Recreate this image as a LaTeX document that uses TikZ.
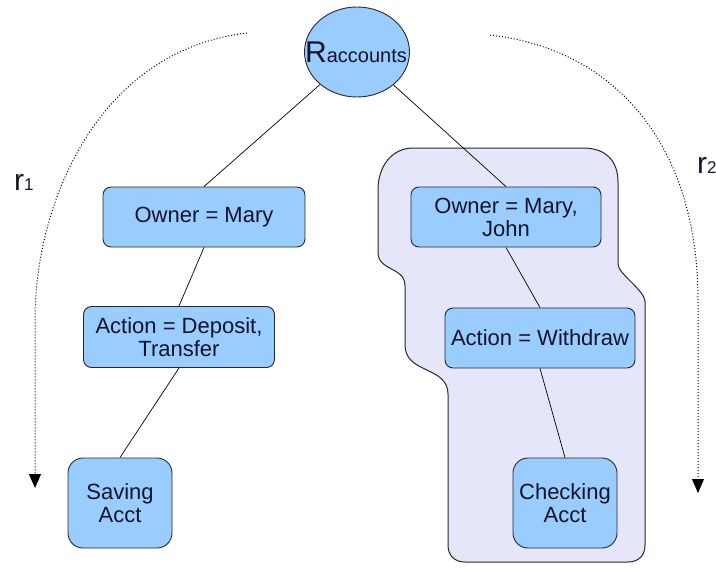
\documentclass[tikz,border=0pt]{standalone}
\usepackage{fontspec}
\setmainfont{Liberation Sans}
\usetikzlibrary{arrows.meta,shapes.geometric}
\definecolor{boxblue}{RGB}{153,204,255}
\definecolor{blobfill}{RGB}{230,230,250}
\definecolor{edgegray}{RGB}{40,40,40}
\definecolor{txt}{RGB}{20,20,40}
\tikzset{
  boxnode/.style={draw=edgegray, line width=0.9pt, fill=boxblue, rounded corners=8pt,
    align=center, inner sep=0pt, text=txt, font=\fontsize{22}{23}\selectfont},
  leafnode/.style={boxnode, rounded corners=15pt},
  conn/.style={draw=black, line width=0.7pt},
  rarc/.style={draw=black, line width=1pt, dotted, -{Triangle[width=12pt,length=14pt]}},
  rlabel/.style={anchor=base west, inner sep=0pt, text=txt, font=\fontsize{30}{30}\selectfont}
}
\begin{document}
\begin{tikzpicture}[x=1pt,y=-1pt]
\useasboundingbox (0,0) rectangle (716,571);
% shaded region
\draw[fill=blobfill, draw=edgegray, line width=1pt]
  (413,148) -- (583,148) .. controls (605,148) and (618,160) .. (618,182)
  -- (618,264) .. controls (618,274) and (645,290) .. (645,302)
  -- (645,545) .. controls (645,556) and (638,562) .. (628,562)
  -- (465,562) .. controls (455,562) and (448,556) .. (448,545)
  -- (448,394) .. controls (448,366) and (405,374) .. (405,345)
  -- (405,286) .. controls (405,266) and (378,272) .. (378,252)
  -- (378,190) .. controls (378,165) and (393,148) .. (413,148) -- cycle;
% nodes
\node[ellipse, draw=edgegray, line width=0.9pt, fill=boxblue, minimum width=105pt,
      minimum height=90pt, inner sep=0pt] (root) at (357,52) {};
\node[inner sep=0pt, text=txt, anchor=base] (rootlbl) at (356,62)
      {{\fontsize{30}{30}\selectfont R}{\fontsize{20}{20}\selectfont accounts}};
\node[boxnode, minimum width=202pt, minimum height=60pt] (om) at (204,217) {Owner = Mary};
\node[boxnode, minimum width=191pt, minimum height=61pt] (ad) at (179,337) {Action = Deposit,\\Transfer};
\node[leafnode, minimum width=104pt, minimum height=90pt] (sa) at (120,503) {Saving\\Acct};
\node[boxnode, minimum width=190pt, minimum height=60pt] (omj) at (506,217) {Owner = Mary,\\John};
\node[boxnode, minimum width=190pt, minimum height=60pt] (aw) at (540,338) {Action = Withdraw};
\node[leafnode, minimum width=104pt, minimum height=90pt] (ca) at (565,503) {Checking\\Acct};
% connectors
\draw[conn] (root) -- (om.north);
\draw[conn] (root) -- (omj.north);
\draw[conn] (om.south) -- (ad.north);
\draw[conn] (ad.south) -- (sa.north);
\draw[conn] (omj.south) -- (aw.north);
\draw[conn] (aw.south) -- (ca.north);
% dotted arcs
\coordinate (l0) at (247,33);
\coordinate (l1) at (35,320);
\coordinate (l2) at (35,488);
\coordinate (q0) at (490,35);
\coordinate (q1) at (698,300);
\coordinate (q2) at (698,493);
\draw[rarc] (l0) .. controls (100,50) and (35,200) .. (l1) -- (l2);
\draw[rarc] (q0) .. controls (620,50) and (698,150) .. (q1) -- (q2);
% labels
\node[rlabel] (r1) at (14,190) {r{\fontsize{17}{17}\selectfont 1}};
\node[rlabel] (r2) at (697,173) {r{\fontsize{17}{17}\selectfont 2}};
\end{tikzpicture}
\end{document}
